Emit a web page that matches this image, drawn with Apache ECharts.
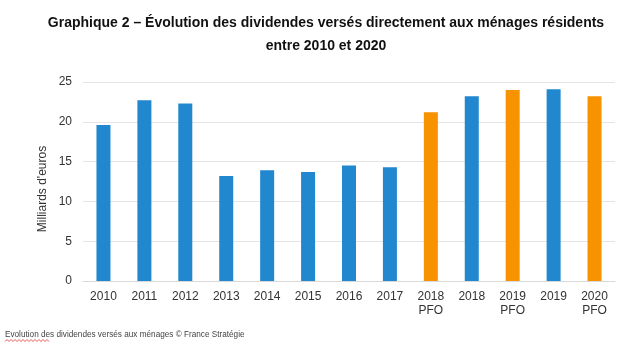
<!DOCTYPE html>
<html><head><meta charset="utf-8">
<script src="https://cdn.jsdelivr.net/npm/echarts@6/dist/echarts.min.js"></script>
<style>html,body{margin:0;padding:0;background:#fff}#c{width:639px;height:358px}</style>
</head><body><div id="c"></div>
<script>
const categories = ["2010","2011","2012","2013","2014","2015","2016","2017","2018\nPFO","2018","2019\nPFO","2019","2020\nPFO"];
const values = [19.6, 22.7, 22.3, 13.2, 13.9, 13.7, 14.5, 14.3, 21.2, 23.2, 24.0, 24.1, 23.2];
const yTicks = [0, 5, 10, 15, 20, 25];

const BLUE = '#2187cf', ORANGE = '#f79200';
const FONT = 'Liberation Sans, Arial';
// decorative spell-check squiggle under "Evolution"
const squiggle = [];
for (let k = 0; k <= 22; k++) squiggle.push([5 + k * 2, k % 2 ? 339.5 : 341.5]);

const chart = echarts.init(document.getElementById('c'));
chart.setOption({
  animation: false,
  graphic: [{
    type: 'text', x: 326, y: 12,
    style: {
      text: 'Graphique 2 – Évolution des dividendes versés directement aux ménages résidents\nentre 2010 et 2020',
      font: 'bold 14px Liberation Sans, Arial', fill: '#111', align: 'center', verticalAlign: 'top', lineHeight: 23
    }
  }, {
    type: 'text', left: 5, top: 331,
    style: { text: 'Evolution des dividendes versés aux ménages © France Stratégie', font: '8.2px Liberation Sans, Arial', fill: '#444' }
  }, {
    type: 'polyline', shape: { points: squiggle }, style: { stroke: '#e03030', lineWidth: 0.8, fill: null }
  }, {
    type: 'text', x: 43, y: 189, rotation: Math.PI / 2,
    style: { text: "Milliards d'euros", font: '12px Liberation Sans, Arial', fill: '#333', align: 'center', verticalAlign: 'middle' }
  }],
  grid: { left: 83, right: 24, top: 82, bottom: 77 },
  xAxis: {
    type: 'category', data: categories,
    axisTick: { show: false },
    axisLine: { lineStyle: { color: '#d9d9d9' } },
    axisLabel: { color: '#333', fontSize: 12, fontFamily: FONT, margin: 9, lineHeight: 14, interval: 0 }
  },
  yAxis: {
    type: 'value', min: yTicks[0], max: yTicks[yTicks.length-1], interval: 5,
    axisLine: { show: false }, axisTick: { show: false },
    axisLabel: { color: '#333', fontSize: 12, fontFamily: FONT, margin: 11 },
    splitLine: { lineStyle: { color: '#e4e4e4' } }
  },
  series: [{
    type: 'bar', barWidth: 14,
    data: values.map((v, i) => ({ value: v, itemStyle: { color: categories[i].includes('PFO') ? ORANGE : BLUE } }))
  }]
});
</script></body></html>
